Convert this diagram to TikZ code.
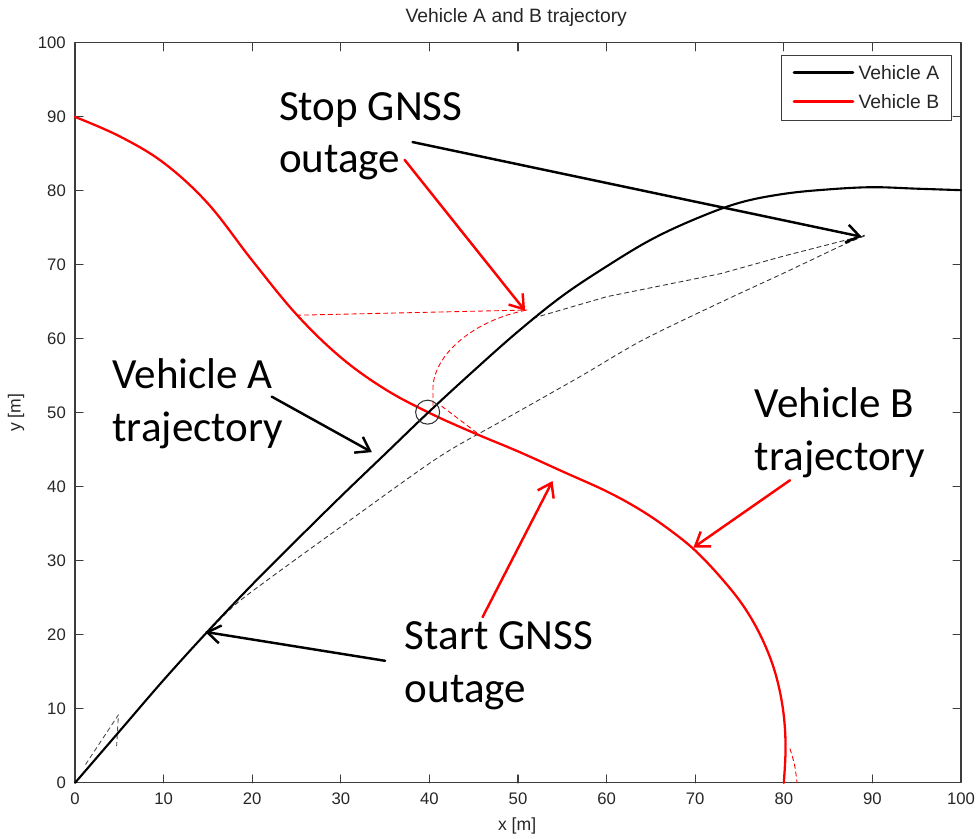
\documentclass[tikz,border=0pt]{standalone}
\usepackage{fontspec}
\setmainfont{Carlito}
\newfontfamily\axfont{Liberation Sans}
\usetikzlibrary{arrows.meta}

\definecolor{axisgray}{RGB}{60,60,60}

\begin{document}
\begin{tikzpicture}[x=0.1772cm, y=0.148cm, line cap=round, line join=round,
  trajA/.style={black, line width=1.2pt},
  trajB/.style={red, line width=1.3pt},
  est/.style={dash pattern=on 2.5pt off 2pt, line width=0.5pt},
  callout/.style={line width=1.4pt, -{Straight Barb[length=0.26cm, width=0.36cm]}},
  note/.style={font=\fontsize{24.5}{30}\selectfont, align=left, anchor=west, inner sep=0pt},
  ticklabel/.style={font=\axfont\fontsize{9.5}{11}\selectfont, text=black!85, inner sep=0pt},
  legtext/.style={font=\axfont\fontsize{11}{13}\selectfont, text=black!85, anchor=west, inner sep=0pt}]

  % picture size
  \useasboundingbox (-8.465,-7.57) rectangle (102.03,105.8);

  % axes box and ticks
  \draw[axisgray, line width=0.6pt] (0,0) rectangle (100,100);
  \foreach \t in {10,20,...,90} {
    \draw[axisgray, line width=0.6pt] (\t,0) -- ++(0,0.16cm);
    \draw[axisgray, line width=0.6pt] (\t,100) -- ++(0,-0.16cm);
    \draw[axisgray, line width=0.6pt] (0,\t) -- ++(0.16cm,0);
    \draw[axisgray, line width=0.6pt] (100,\t) -- ++(-0.16cm,0);
  }
  \foreach \t in {0,10,...,100} {
    \node[ticklabel, anchor=north] (xl\t) at (\t,-1.35) {\t};
    \node[ticklabel, anchor=east] (yl\t) at (-1.0,\t) {\t};
  }

  % title and axis labels
  \node[font=\axfont\fontsize{11}{13}\selectfont, text=black!85] (title) at (49.8,103.4) {Vehicle A and B trajectory};
  \node[font=\axfont\fontsize{10}{12}\selectfont, text=black!85] (xlab) at (49.9,-5.8) {x [m]};
  \node[font=\axfont\fontsize{10}{12}\selectfont, text=black!85, rotate=90] (ylab) at (-6.66,50) {y [m]};

  % estimated paths during the outage
  \draw[est, black!80] (51.7,62.8) -- (60,65.7) -- (72.8,68.8) -- (80,71.2) -- (89.1,74);
  \draw[est, black!80] plot[smooth] coordinates {(14.9,20.3) (18,24) (21.7,27.4) (30,34.6) (40.9,43.9) (48,48.8) (57,54.9) (64,59.8) (72.8,64.9) (80,68.9) (86.7,72.7) (89.1,73.9)};
  \draw[est, black!70] (1.2,2.5) -- (4.9,9.2) -- (4.7,5.0);
  \draw[est, red] (25,63.2) -- (51,63.9);
  \draw[est, red] (40.4,51) -- (40.4,53.5) .. controls (40.6,58) and (45,62.5) .. (51,63.9);
  \draw[est, red] (41.4,50.9) -- (45.7,47.0);
  \draw[est, red] plot[smooth] coordinates {(80.7,4.6) (81.2,2.5) (81.5,0)};

  % trajectories
  \draw[trajB] plot[smooth, tension=0.6] coordinates {(0,90) (5,87.4) (10,83.8) (15,78.3) (20,70.6) (25,63.3) (30,57.5) (35,53.2) (40,50) (45,47.3) (50,44.8) (55,42.1) (60,39.4) (63.8,36.9) (67,34.3) (70,31.4) (73,27.6) (75.5,23.8) (77.5,19.6) (79,15) (79.9,10) (80.2,5) (80,0)};
  \draw[trajA] plot[smooth, tension=0.6] coordinates {(0,0) (5,6.95) (10,13.9) (15,20.5) (20,26.8) (25,32.8) (30,38.7) (35,44.45) (40,50.2) (45,55.7) (50,61.0) (55,65.8) (60,69.8) (65,73.4) (70,76.2) (75,78.4) (80,79.6) (85,80.2) (90,80.5) (95,80.3) (100,80.1)};

  % crossing mark
  \node[draw=black!80, line width=0.6pt, circle, minimum size=0.48cm, inner sep=0pt] (cross) at (39.8,50.1) {};

  % notes
  \node[note] (stop) at (23.0,87.4) {Stop GNSS\\outage};
  \node[note] (vehA) at (4.2,51.2) {Vehicle A\\trajectory};
  \node[note] (vehB) at (76.7,47.3) {Vehicle B\\trajectory};
  \node[note] (start) at (37.2,15.8) {Start GNSS\\outage};

  % arrow ends
  \coordinate (stopAs) at (38.1,86.6);
  \coordinate (stopAt) at (88.8,73.8);
  \coordinate (stopBs) at (37.2,84.2);
  \coordinate (stopBt) at (50.8,63.8);
  \coordinate (vehAs) at (22.2,52.2);
  \coordinate (vehAt) at (33.5,44.7);
  \coordinate (vehBs) at (80.7,40.9);
  \coordinate (vehBt) at (69.8,31.8);
  \coordinate (startAs) at (35.0,16.5);
  \coordinate (startAt) at (14.7,20.4);
  \coordinate (startBs) at (46.0,22.4);
  \coordinate (startBt) at (53.9,40.8);

  % arrows
  \draw[callout, black] (stopAs) -- (stopAt);
  \draw[callout, red] (stopBs) -- (stopBt);
  \draw[callout, black] (vehAs) -- (vehAt);
  \draw[callout, red] (vehBs) -- (vehBt);
  \draw[callout, black] (startAs) -- (startAt);
  \draw[callout, red] (startBs) -- (startBt);

  % legend
  \draw[axisgray, line width=0.6pt, fill=white] (79.76,89.5) rectangle (98.95,98.28);
  \draw[black, line width=1.6pt] (81.15,96.0) -- (87.8,96.0);
  \draw[red, line width=1.6pt] (81.15,92.07) -- (87.8,92.07);
  \node[legtext] (legA) at (88.4,96.0) {Vehicle A};
  \node[legtext] (legB) at (88.4,92.07) {Vehicle B};
\end{tikzpicture}
\end{document}
